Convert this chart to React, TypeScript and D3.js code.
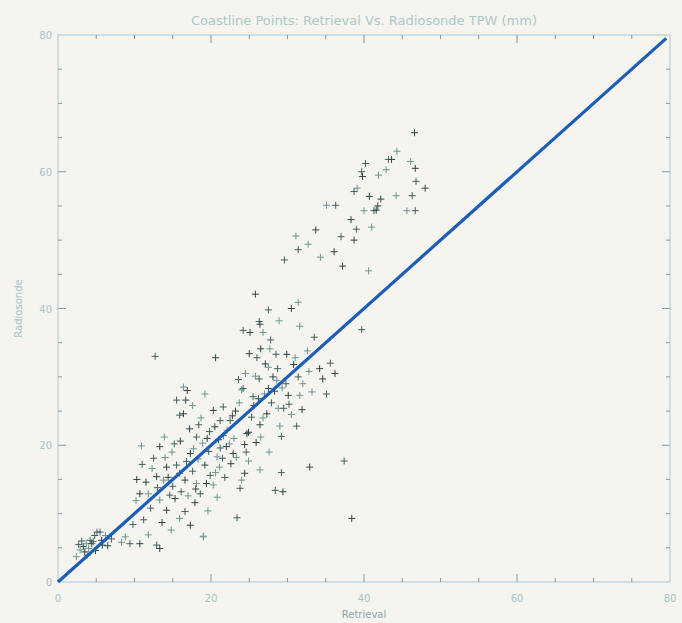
import { useEffect, useRef } from "react";
import * as d3 from "d3";

const title = "Coastline Points: Retrieval Vs. Radiosonde TPW (mm)";
const xLabel = "Retrieval";
const yLabel = "Radiosonde";
const majorTicks = [0, 20, 40, 60, 80];
const minorTicks = d3.range(0, 81, 5);
const oneToOne = [0, 79.5];

// [retrieval, radiosonde]
const coastPoints: [number, number][] = [
  [46.6, 65.7], [44.3, 63.0], [43.2, 61.8], [43.6, 61.8], [46.1, 61.5], [40.2, 61.2],
  [46.7, 60.5], [42.9, 60.3], [39.7, 60.0], [39.8, 59.3], [41.9, 59.5], [46.8, 58.6],
  [48.0, 57.6], [39.1, 57.6], [38.7, 57.1], [40.7, 56.4], [44.2, 56.5], [46.3, 56.5],
  [42.2, 56.0], [35.1, 55.1], [36.3, 55.1], [41.8, 55.0], [40.0, 54.3], [41.3, 54.3],
  [41.6, 54.4], [45.6, 54.3], [46.7, 54.3], [38.3, 53.0], [41.0, 51.9], [39.0, 51.6],
  [33.7, 51.5], [31.1, 50.6], [37.0, 50.5], [38.7, 50.0], [32.7, 49.4], [31.4, 48.6],
  [36.1, 48.3], [34.3, 47.5], [29.6, 47.1], [37.2, 46.2], [40.6, 45.5], [39.7, 36.9],
  [25.8, 42.1], [31.4, 40.9], [27.5, 39.8], [30.5, 40.0], [28.9, 38.2], [26.3, 38.1],
  [26.4, 37.7], [31.6, 37.4], [24.2, 36.8], [25.1, 36.5], [26.8, 36.5], [27.8, 35.4],
  [26.5, 34.1], [27.7, 34.1], [28.5, 33.3], [29.9, 33.3], [31.0, 32.8], [35.6, 32.0],
  [27.1, 31.9], [27.5, 31.4], [28.7, 31.2], [36.2, 30.5], [25.8, 30.1], [26.3, 29.7],
  [28.1, 30.0], [28.6, 29.5], [31.4, 30.0], [34.6, 29.7], [32.0, 29.0], [24.2, 28.3],
  [27.5, 28.3], [33.2, 27.8], [35.1, 27.5], [30.1, 27.3], [31.6, 27.3], [25.5, 27.1],
  [26.2, 26.8], [28.8, 25.4], [29.5, 25.4], [27.3, 24.6], [30.5, 24.5], [25.3, 24.1],
  [26.4, 23.0], [29.0, 22.8], [31.2, 22.8], [24.7, 21.7], [26.5, 21.2], [29.2, 21.3],
  [24.4, 20.1], [27.6, 19.0], [21.5, 18.1], [22.9, 18.8], [24.9, 17.7], [37.4, 17.7],
  [32.9, 16.8], [26.4, 16.4], [29.2, 16.0], [24.4, 15.9], [24.0, 14.9], [23.8, 13.7],
  [19.4, 14.4], [20.3, 14.2], [28.4, 13.4], [29.4, 13.2], [19.6, 10.4], [23.4, 9.4],
  [38.4, 9.3], [19.0, 6.7], [12.7, 33.0], [20.6, 32.8], [16.4, 28.5], [15.5, 26.6],
  [16.7, 26.6], [19.2, 27.5], [15.9, 24.4], [16.4, 24.6], [24.0, 28.1], [21.6, 25.6],
  [20.3, 25.1], [23.7, 26.2], [21.2, 23.6], [20.5, 22.7], [22.1, 22.2], [18.1, 21.2],
  [24.9, 21.9], [10.9, 19.9], [12.5, 18.1], [13.3, 19.8], [14.9, 19.0], [15.5, 17.1],
  [14.2, 16.8], [17.7, 19.5], [16.8, 17.6], [12.9, 15.4], [13.8, 14.9], [15.9, 15.9],
  [16.6, 14.9], [18.1, 14.4], [18.6, 12.9], [10.7, 12.9], [11.8, 12.9], [14.6, 12.7],
  [15.3, 12.2], [13.3, 12.0], [16.6, 10.3], [14.2, 10.5], [15.9, 9.3], [11.2, 9.1],
  [17.3, 8.3], [8.8, 6.6], [9.4, 5.6], [10.7, 5.6], [11.8, 6.9], [12.9, 5.4],
  [13.3, 4.9], [19.0, 6.6], [5.5, 7.3], [3.3, 5.2], [3.7, 5.6], [4.2, 6.1],
  [4.4, 5.6], [2.9, 4.7], [4.6, 5.9], [3.5, 4.4], [4.0, 4.9], [5.1, 7.3],
  [5.7, 6.1], [2.4, 3.7], [3.1, 6.0], [4.9, 4.6], [6.2, 6.8], [2.7, 5.5],
  [17.2, 22.4], [18.9, 20.3], [19.7, 19.1], [21.0, 20.8], [22.4, 20.2], [17.6, 16.2],
  [19.2, 17.1], [20.6, 16.0], [21.8, 15.3], [22.6, 17.3], [18.3, 18.0], [16.1, 13.2],
  [17.9, 11.6], [20.8, 12.4], [12.1, 10.8], [13.6, 8.7], [14.8, 7.6], [22.5, 23.6],
  [23.2, 25.0], [18.7, 24.0], [19.8, 22.0], [25.6, 25.8], [27.0, 27.5], [29.8, 29.0],
  [30.8, 31.8], [32.6, 33.8], [33.5, 35.8], [34.2, 31.2], [23.0, 21.0], [21.2, 19.6],
  [16.0, 20.6], [14.0, 18.2], [13.0, 13.8], [11.5, 14.6], [10.2, 11.9], [9.8, 8.4],
  [16.9, 28.0], [17.6, 25.8], [18.4, 23.0], [19.5, 21.0], [20.8, 18.3], [21.6, 21.4],
  [22.0, 19.8], [23.3, 18.2], [24.6, 19.0], [25.9, 20.4], [26.8, 24.0], [27.9, 26.2],
  [28.3, 27.9], [29.3, 28.4], [30.2, 26.0], [31.9, 25.2], [32.8, 30.8], [26.0, 32.8],
  [25.0, 33.4], [24.5, 30.5], [23.6, 29.6], [22.8, 24.3], [21.1, 16.8], [19.9, 15.6],
  [18.0, 13.6], [17.0, 12.6], [15.0, 14.0], [14.4, 15.3], [12.3, 16.6], [11.0, 17.2],
  [10.3, 15.0], [13.9, 21.2], [15.2, 20.2], [17.3, 18.8], [8.3, 5.8], [7.0, 6.3],
  [6.5, 5.3], [3.8, 3.9], [4.8, 6.8], [5.8, 5.4],
];

const W = 682;
const H = 623;
const margin = { top: 35, right: 12, bottom: 41, left: 58 };

const App = () => {
  const svgRef = useRef<SVGSVGElement>(null);

  useEffect(() => {
    const svg = d3.select(svgRef.current).attr("width", W).attr("height", H);
    svg.selectAll("*").remove();

    const width = W - margin.left - margin.right;
    const height = H - margin.top - margin.bottom;

    const x = d3.scaleLinear().domain([0, 80]).range([0, width]);
    const y = d3.scaleLinear().domain([0, 80]).range([height, 0]);

    const axisColor = "#a9c6d6";
    const textColor = "#a3c6c6";
    const font = "'DejaVu Sans', sans-serif";

    svg.append("rect").attr("width", W).attr("height", H).attr("fill", "#f6f4ef");

    const g = svg.append("g").attr("transform", `translate(${margin.left},${margin.top})`);

    // frame
    g.append("rect")
      .attr("width", width)
      .attr("height", height)
      .attr("fill", "none")
      .attr("stroke", axisColor)
      .attr("stroke-width", 1);

    // tick marks on all four sides, pointing inward
    const tickLen = (v: number) => (v % 20 === 0 ? 8 : 4);
    const ticks = minorTicks.filter((v) => v > 0 && v < 80);
    g.selectAll(".tb")
      .data(ticks)
      .enter()
      .append("line")
      .attr("x1", (d) => x(d))
      .attr("x2", (d) => x(d))
      .attr("y1", height)
      .attr("y2", (d) => height - tickLen(d))
      .attr("stroke", "#7f9aa6");
    g.selectAll(".tt")
      .data(ticks)
      .enter()
      .append("line")
      .attr("x1", (d) => x(d))
      .attr("x2", (d) => x(d))
      .attr("y1", 0)
      .attr("y2", (d) => tickLen(d))
      .attr("stroke", "#7f9aa6");
    g.selectAll(".tl")
      .data(ticks)
      .enter()
      .append("line")
      .attr("y1", (d) => y(d))
      .attr("y2", (d) => y(d))
      .attr("x1", 0)
      .attr("x2", (d) => tickLen(d))
      .attr("stroke", "#7f9aa6");
    g.selectAll(".tr")
      .data(ticks)
      .enter()
      .append("line")
      .attr("y1", (d) => y(d))
      .attr("y2", (d) => y(d))
      .attr("x1", width)
      .attr("x2", (d) => width - tickLen(d))
      .attr("stroke", "#7f9aa6");

    // tick labels
    g.selectAll(".xl")
      .data(majorTicks)
      .enter()
      .append("text")
      .attr("x", (d) => x(d))
      .attr("y", height + 20)
      .attr("text-anchor", "middle")
      .attr("font-family", font)
      .attr("font-size", 10)
      .attr("fill", textColor)
      .text((d) => d);
    g.selectAll(".yl")
      .data(majorTicks)
      .enter()
      .append("text")
      .attr("x", -6)
      .attr("y", (d) => y(d) + 4)
      .attr("text-anchor", "end")
      .attr("font-family", font)
      .attr("font-size", 10)
      .attr("fill", textColor)
      .text((d) => d);

    // titles
    svg.append("text")
      .attr("x", margin.left + width / 2)
      .attr("y", 25)
      .attr("text-anchor", "middle")
      .attr("font-family", font)
      .attr("font-size", 13)
      .attr("fill", "#abc9c9")
      .text(title);
    svg.append("text")
      .attr("x", margin.left + width / 2)
      .attr("y", 618)
      .attr("text-anchor", "middle")
      .attr("font-family", font)
      .attr("font-size", 10)
      .attr("fill", "#8aa8a8")
      .text(xLabel);
    svg.append("text")
      .attr("transform", `translate(22,${margin.top + height / 2}) rotate(-90)`)
      .attr("text-anchor", "middle")
      .attr("font-family", font)
      .attr("font-size", 10)
      .attr("fill", textColor)
      .text(yLabel);

    // crosses
    const shades = ["#2e4546", "#6a9696", "#40605f"];
    const arm = 3.5;
    const pts = g.selectAll(".pt").data(coastPoints).enter().append("g").attr("class", "pt");
    pts.append("line")
      .attr("x1", (d) => x(d[0]) - arm)
      .attr("x2", (d) => x(d[0]) + arm)
      .attr("y1", (d) => y(d[1]))
      .attr("y2", (d) => y(d[1]))
      .attr("stroke", (_, i) => shades[i % 3])
      .attr("stroke-width", 1);
    pts.append("line")
      .attr("x1", (d) => x(d[0]))
      .attr("x2", (d) => x(d[0]))
      .attr("y1", (d) => y(d[1]) - arm)
      .attr("y2", (d) => y(d[1]) + arm)
      .attr("stroke", (_, i) => shades[i % 3])
      .attr("stroke-width", 1);

    // 1:1 line
    g.append("path")
      .datum(oneToOne)
      .attr("fill", "none")
      .attr("stroke", "#1b5db7")
      .attr("stroke-width", 3.2)
      .attr("d", d3.line<number>().x((d) => x(d)).y((d) => y(d)));
  }, []);

  return (
    <div style={{ position: "absolute", left: 0, top: 0 }}>
      <svg ref={svgRef} style={{ display: "block" }}></svg>
    </div>
  );
};

export default App;
